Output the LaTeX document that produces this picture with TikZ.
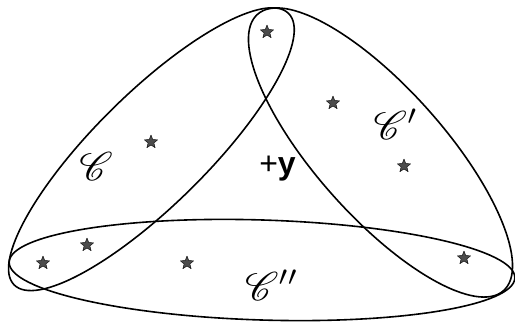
\documentclass[tikz,border=0pt]{standalone}
\usepackage{fontspec}
\setsansfont{Liberation Sans}
\usepackage{mathrsfs}
\usetikzlibrary{shapes.geometric}
\tikzset{
	starpt/.style={star,star points=5,star point ratio=2.3,draw=black,fill=black!70,
		line width=0.4pt,inner sep=0pt,minimum size=14pt},
	setlbl/.style={inner sep=0pt}
}
\newcommand{\setname}[1]{\scalebox{4}{$\mathscr{C}#1$}}
\begin{document}
\begin{tikzpicture}[x=1pt,y=1pt,line width=1.6pt,line join=round,line cap=round]
	\useasboundingbox (0,0) rectangle (515,322);
	% the three sets
	\draw[rotate around={44.65:(151.4,172.8)}] (151.4,172.8) ellipse [x radius=193,y radius=56];
	\draw[rotate around={-48.3:(380.5,169.5)}] (380.5,169.5) ellipse [x radius=185,y radius=64];
	\draw[rotate around={-1.8:(262,52)}] (262,52) ellipse [x radius=253,y radius=50];
	% points
	\node[starpt] (s1) at (267,290) {};
	\node[starpt] (s2) at (151,180) {};
	\node[starpt] (s3) at (333,219) {};
	\node[starpt] (s4) at (404,156) {};
	\node[starpt] (s5) at (87,77) {};
	\node[starpt] (s6) at (43,59) {};
	\node[starpt] (s7) at (187,59) {};
	\node[starpt] (s8) at (464,64) {};
	% labels
	\node[setlbl] (c1) at (96,155) {\setname{}};
	\node[setlbl] (c2) at (396,198) {\setname{'}};
	\node[setlbl] (c3) at (272,37) {\setname{''}};
	\node[inner sep=0pt,font=\fontsize{32}{34}\selectfont\sffamily] (y) at (277.5,153) {+\textbf{y}};
\end{tikzpicture}
\end{document}
